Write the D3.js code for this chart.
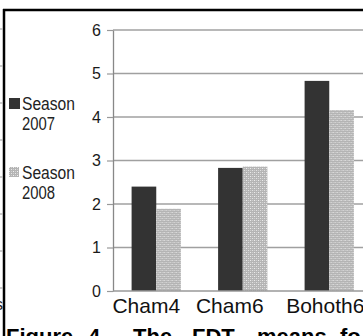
<!DOCTYPE html>
<html>
<head>
<meta charset="utf-8">
<script src="https://cdn.jsdelivr.net/npm/d3@7/dist/d3.min.js"></script>
<style>
  html, body { margin: 0; padding: 0; background: #fff; overflow: hidden; }
  svg { display: block; font-family: "Liberation Sans", Arial, sans-serif; }
</style>
</head>
<body>
<svg id="chart" width="363" height="336"></svg>
<script>
// FDT means per genotype and season
const categories = ["Cham4", "Cham6", "Bohoth6"];
const seriesNames = ["Season 2007", "Season 2008"];
const season2007 = [2.40, 2.83, 4.83];
const season2008 = [1.89, 2.86, 4.16];
const yTicks = [0, 1, 2, 3, 4, 5, 6];
const captionWords = ["Figure", "4.", "The", "FDT", "means", "fo"];

const FONT = "'Liberation Sans', Arial, sans-serif";
const svg = d3.select("#chart");

// Stippled fill for the 2008 season
const defs = svg.append("defs");
const pat = defs.append("pattern")
  .attr("id", "stipple").attr("patternUnits", "userSpaceOnUse")
  .attr("width", 4).attr("height", 4);
pat.append("rect").attr("width", 4).attr("height", 4).attr("fill", "#b4b4b4");
pat.append("rect").attr("x", 0).attr("y", 0).attr("width", 1).attr("height", 1).attr("fill", "#f2f2f2");
pat.append("rect").attr("x", 2).attr("y", 2).attr("width", 1).attr("height", 1).attr("fill", "#e6e6e6");
pat.append("rect").attr("x", 2).attr("y", 0).attr("width", 1).attr("height", 1).attr("fill", "#d0d0d0");
pat.append("rect").attr("x", 0).attr("y", 2).attr("width", 1).attr("height", 1).attr("fill", "#d0d0d0");

const fills = ["#333333", "url(#stipple)"];

// Page frame lines
svg.append("line").attr("x1", 3).attr("x2", 363).attr("y1", 10).attr("y2", 10)
  .attr("stroke", "#000").attr("stroke-width", 2.5);
svg.append("line").attr("x1", 4).attr("x2", 4).attr("y1", 9).attr("y2", 336)
  .attr("stroke", "#000").attr("stroke-width", 2.5);

// Edge of the neighbouring figure's gridlines
const leftGrid = d3.scaleLinear().domain([0, 7]).range([29, 288]);
svg.append("g").selectAll("line").data(d3.range(8)).join("line")
  .attr("x1", 0).attr("x2", 2.5)
  .attr("y1", d => leftGrid(d)).attr("y2", d => leftGrid(d))
  .attr("stroke", "#999").attr("stroke-width", 1);
svg.append("text").attr("x", -5).attr("y", 310).attr("font-size", 16).attr("fill", "#222").text("s");

// Scales
const y = d3.scaleLinear().domain([0, 6]).range([291, 30]);
const x0 = d3.scaleBand().domain(categories).range([113, 372.5])
  .paddingInner(0.43).paddingOuter(0.215);
const x1 = d3.scaleBand().domain(seriesNames).range([0, x0.bandwidth()]);

// Gridlines
svg.append("g").selectAll("line").data(yTicks.filter(d => d > 0)).join("line")
  .attr("x1", 113).attr("x2", 363)
  .attr("y1", d => y(d)).attr("y2", d => y(d))
  .attr("stroke", "#a0a0a0").attr("stroke-width", 1.3);

// Bars
const rows = categories.map((c, i) => ({ cat: c, vals: [season2007[i], season2008[i]] }));
svg.append("g").selectAll("g").data(rows).join("g")
  .attr("transform", d => `translate(${x0(d.cat)},0)`)
  .selectAll("rect").data(d => d.vals.map((v, k) => ({ v, k })))
  .join("rect")
  .attr("x", d => x1(seriesNames[d.k]))
  .attr("width", x1.bandwidth())
  .attr("y", d => y(d.v))
  .attr("height", d => y(0) - y(d.v))
  .attr("fill", d => fills[d.k]);

// Y axis
const yAxis = svg.append("g").attr("transform", "translate(113,0)")
  .call(d3.axisLeft(y).tickValues(yTicks).tickFormat(d3.format("d"))
    .tickSize(6).tickSizeOuter(0).tickPadding(6));
yAxis.select(".domain").attr("stroke", "#888").attr("stroke-width", 1.3);
yAxis.selectAll(".tick line").attr("stroke", "#999").attr("stroke-width", 1.2);
yAxis.selectAll(".tick text").attr("font-size", 16).attr("fill", "#1a1a1a")
  .attr("font-family", FONT);

// X axis (labels sit a little left of their bar pairs)
const labelShift = [-10, -13, -4];
const xAxis = svg.append("g").attr("transform", `translate(0,${y(0)})`)
  .call(d3.axisBottom(x0).tickSize(0).tickPadding(6));
xAxis.select(".domain").attr("d", `M113,0H363`).attr("stroke", "#999").attr("stroke-width", 1.3);
xAxis.selectAll(".tick text").attr("font-size", 21).attr("fill", "#111")
  .attr("font-family", FONT).attr("dx", (d, i) => labelShift[i]).attr("y", 7);

// Legend: two-line entries, text slightly condensed
const legend = svg.append("g");
seriesNames.forEach((name, i) => {
  const g = legend.append("g").attr("transform", `translate(9,${98 + i * 69})`);
  g.append("rect").attr("width", i === 0 ? 11 : 10).attr("height", i === 0 ? 11 : 10)
    .attr("fill", fills[i]);
  const parts = name.split(" ");
  g.append("text").attr("x", 13).attr("y", 12).attr("font-size", 17.5).attr("fill", "#222")
    .attr("textLength", 53).attr("lengthAdjust", "spacingAndGlyphs").text(parts[0]);
  g.append("text").attr("x", 13).attr("y", 32).attr("font-size", 17.5).attr("fill", "#222")
    .attr("textLength", 33).attr("lengthAdjust", "spacingAndGlyphs").text(parts[1]);
});

// Caption (justified, only its top shows)
const wordX = [6, 88, 133, 192, 257, 340];
svg.append("g").selectAll("text").data(captionWords).join("text")
  .attr("x", (d, i) => wordX[i]).attr("y", 344)
  .attr("font-size", 22).attr("font-weight", "bold").attr("fill", "#000")
  .text(d => d);
</script>
</body>
</html>
